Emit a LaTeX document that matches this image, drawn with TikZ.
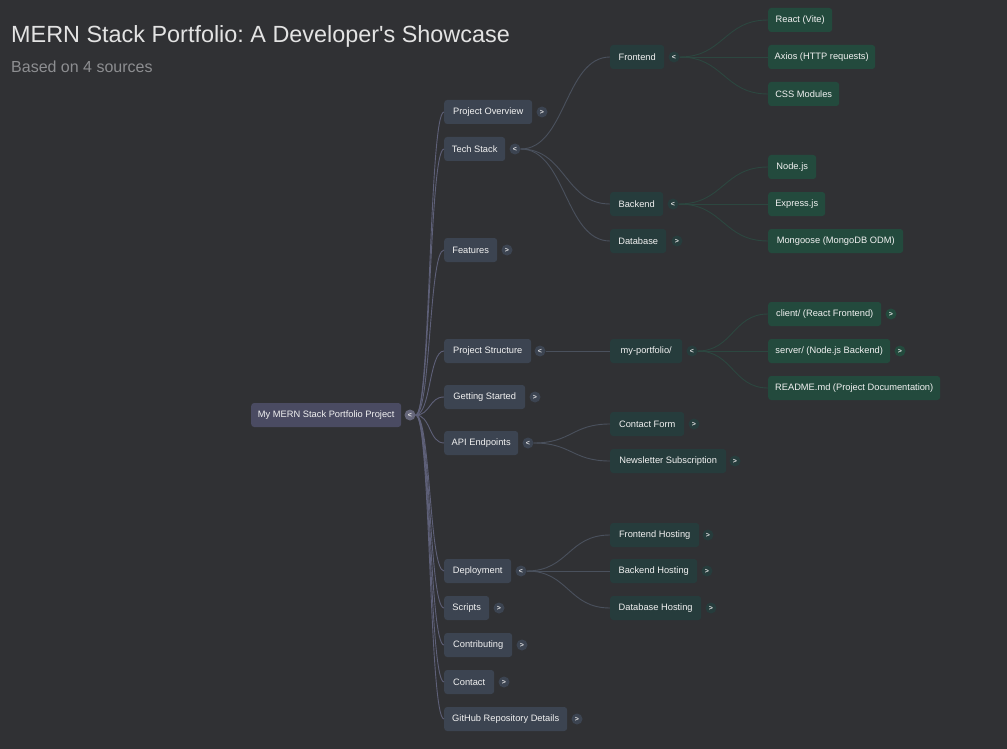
\documentclass[tikz,border=0pt]{standalone}
\usepackage{fontspec}
\setmainfont{Liberation Sans}
\newfontfamily\plaintitlefont{Liberation Sans}
\frenchspacing
\begin{document}
\begin{tikzpicture}[x=1pt,y=-1pt,
  every node/.style={font=\fontsize{9.3}{11}\selectfont},
  box/.style={rectangle,rounded corners=3pt,minimum height=24pt,inner xsep=6pt,inner ysep=0pt,anchor=west,text=white!95!black},
  rootbox/.style={box,fill=rootc},
  lone/.style={box,fill=l1c},
  ltwo/.style={box,fill=l2c},
  lthree/.style={box,fill=l3c},
  tog/.style={circle,minimum size=11pt,inner sep=0pt,font=\fontsize{7}{7}\selectfont\bfseries,text=white!90!black},
  troot/.style={tog,fill=rootc!85!white},
  tone/.style={tog,fill=l1c},
  ttwo/.style={tog,fill=l2c},
  tthree/.style={tog,fill=l3c},
  lr/.style={draw=lrc,line width=0.9pt},
  lo/.style={draw=loc,line width=0.9pt},
  lt/.style={draw=ltc,line width=0.9pt}
]
\definecolor{bgc}{HTML}{303134}
\definecolor{rootc}{HTML}{4A4B62}
\definecolor{l1c}{HTML}{3C4451}
\definecolor{l2c}{HTML}{263C3C}
\definecolor{l3c}{HTML}{234A3D}
\definecolor{lrc}{HTML}{5E6078}
\definecolor{loc}{HTML}{4A515D}
\definecolor{ltc}{HTML}{2C4740}
\definecolor{titc}{HTML}{E3E3E3}
\definecolor{subc}{HTML}{8D8E91}
\fill[bgc] (0,0) rectangle (1007,749);
\useasboundingbox (0,0) rectangle (1007,749);

\node[anchor=base west,inner sep=0pt,text=titc,font=\plaintitlefont\fontsize{23.4}{27}\selectfont] (title) at (11,43) {MERN Stack Portfolio: A Developer's Showcase};
\node[anchor=base west,inner sep=0pt,text=subc,font=\fontsize{16}{19}\selectfont] (sub) at (11,73) {Based on 4 sources};

% root
\node[rootbox,minimum width=150pt] (root) at (251,415) {My MERN Stack Portfolio Project};
\node[troot] (troot) at (410,415) {<};

% level 1
\node[lone,minimum width=88pt] (po) at (444,112) {Project Overview};
\node[tone] (tpo) at (542,112) {>};
\node[lone,minimum width=61pt] (ts) at (444,149) {Tech Stack};
\node[tone] (tts) at (515,149) {<};
\node[lone,minimum width=53pt] (fe) at (444,250) {Features};
\node[tone] (tfe) at (507,250) {>};
\node[lone,minimum width=87pt] (ps) at (444,351) {Project Structure};
\node[tone] (tps) at (540,351) {<};
\node[lone,minimum width=81pt] (gs) at (444,397) {Getting Started};
\node[tone] (tgs) at (535,397) {>};
\node[lone,minimum width=74pt] (api) at (444,443) {API Endpoints};
\node[tone] (tapi) at (528,443) {<};
\node[lone,minimum width=67pt] (dep) at (444,571) {Deployment};
\node[tone] (tdep) at (521,571) {<};
\node[lone,minimum width=45pt] (scr) at (444,608) {Scripts};
\node[tone] (tscr) at (499,608) {>};
\node[lone,minimum width=68pt] (con) at (444,645) {Contributing};
\node[tone] (tcon) at (522,645) {>};
\node[lone,minimum width=50pt] (ct) at (444,682) {Contact};
\node[tone] (tct) at (504,682) {>};
\node[lone,minimum width=123pt] (gh) at (444,719) {GitHub Repository Details};
\node[tone] (tgh) at (577,719) {>};

% level 2
\node[ltwo,minimum width=54pt] (front) at (610,57) {Frontend};
\node[ttwo] (tfront) at (674,57) {<};
\node[ltwo,minimum width=53pt] (back) at (610,204) {Backend};
\node[ttwo] (tback) at (673,204) {<};
\node[ltwo,minimum width=56pt] (db) at (610,241) {Database};
\node[ttwo] (tdb) at (677,241) {>};
\node[ltwo,minimum width=72pt] (myp) at (610,351) {my-portfolio/};
\node[ttwo] (tmyp) at (692,351) {<};
\node[ltwo,minimum width=74pt] (cf) at (610,424) {Contact Form};
\node[ttwo] (tcf) at (694,424) {>};
\node[ltwo,minimum width=116pt] (ns) at (610,461) {Newsletter Subscription};
\node[ttwo] (tns) at (735,461) {>};
\node[ltwo,minimum width=89pt] (fh) at (610,535) {Frontend Hosting};
\node[ttwo] (tfh) at (708,535) {>};
\node[ltwo,minimum width=87pt] (bh) at (610,571) {Backend Hosting};
\node[ttwo] (tbh) at (707,571) {>};
\node[ltwo,minimum width=91pt] (dh) at (610,608) {Database Hosting};
\node[ttwo] (tdh) at (711,608) {>};

% level 3
\node[lthree,minimum width=64pt] (react) at (768,20) {React (Vite)};
\node[lthree,minimum width=107pt] (axios) at (768,57) {Axios (HTTP requests)};
\node[lthree,minimum width=71pt] (css) at (768,94) {CSS Modules};
\node[lthree,minimum width=48pt] (node) at (768,167) {Node.js};
\node[lthree,minimum width=57pt] (exp) at (768,204) {Express.js};
\node[lthree,minimum width=135pt] (mong) at (768,241) {Mongoose (MongoDB ODM)};
\node[lthree,minimum width=113pt] (cli) at (768,314) {client/ (React Frontend)};
\node[tthree] (tcli) at (891,314) {>};
\node[lthree,minimum width=122pt] (srv) at (768,351) {server/ (Node.js Backend)};
\node[tthree] (tsrv) at (900,351) {>};
\node[lthree,minimum width=172pt] (rd) at (768,388) {README.md (Project Documentation)};

% connectors root -> level 1
\foreach \c in {po,ts,fe,ps,gs,api,dep,scr,con,ct,gh}
  \draw[lr] (troot.east) .. controls +(15,0) and +(-15,0) .. (\c.west);

% level 1 -> level 2
\foreach \c in {front,back,db}
  \draw[lo] (tts.east) .. controls +(45,0) and +(-45,0) .. (\c.west);
\draw[lo] (tps.east) -- (myp.west);
\foreach \c in {cf,ns}
  \draw[lo] (tapi.east) .. controls +(38,0) and +(-38,0) .. (\c.west);
\foreach \c in {fh,bh,dh}
  \draw[lo] (tdep.east) .. controls +(42,0) and +(-42,0) .. (\c.west);

% level 2 -> level 3
\foreach \c in {react,axios,css}
  \draw[lt] (tfront.east) .. controls +(44,0) and +(-44,0) .. (\c.west);
\foreach \c in {node,exp,mong}
  \draw[lt] (tback.east) .. controls +(45,0) and +(-45,0) .. (\c.west);
\foreach \c in {cli,srv,rd}
  \draw[lt] (tmyp.east) .. controls +(35,0) and +(-35,0) .. (\c.west);
\end{tikzpicture}
\end{document}
